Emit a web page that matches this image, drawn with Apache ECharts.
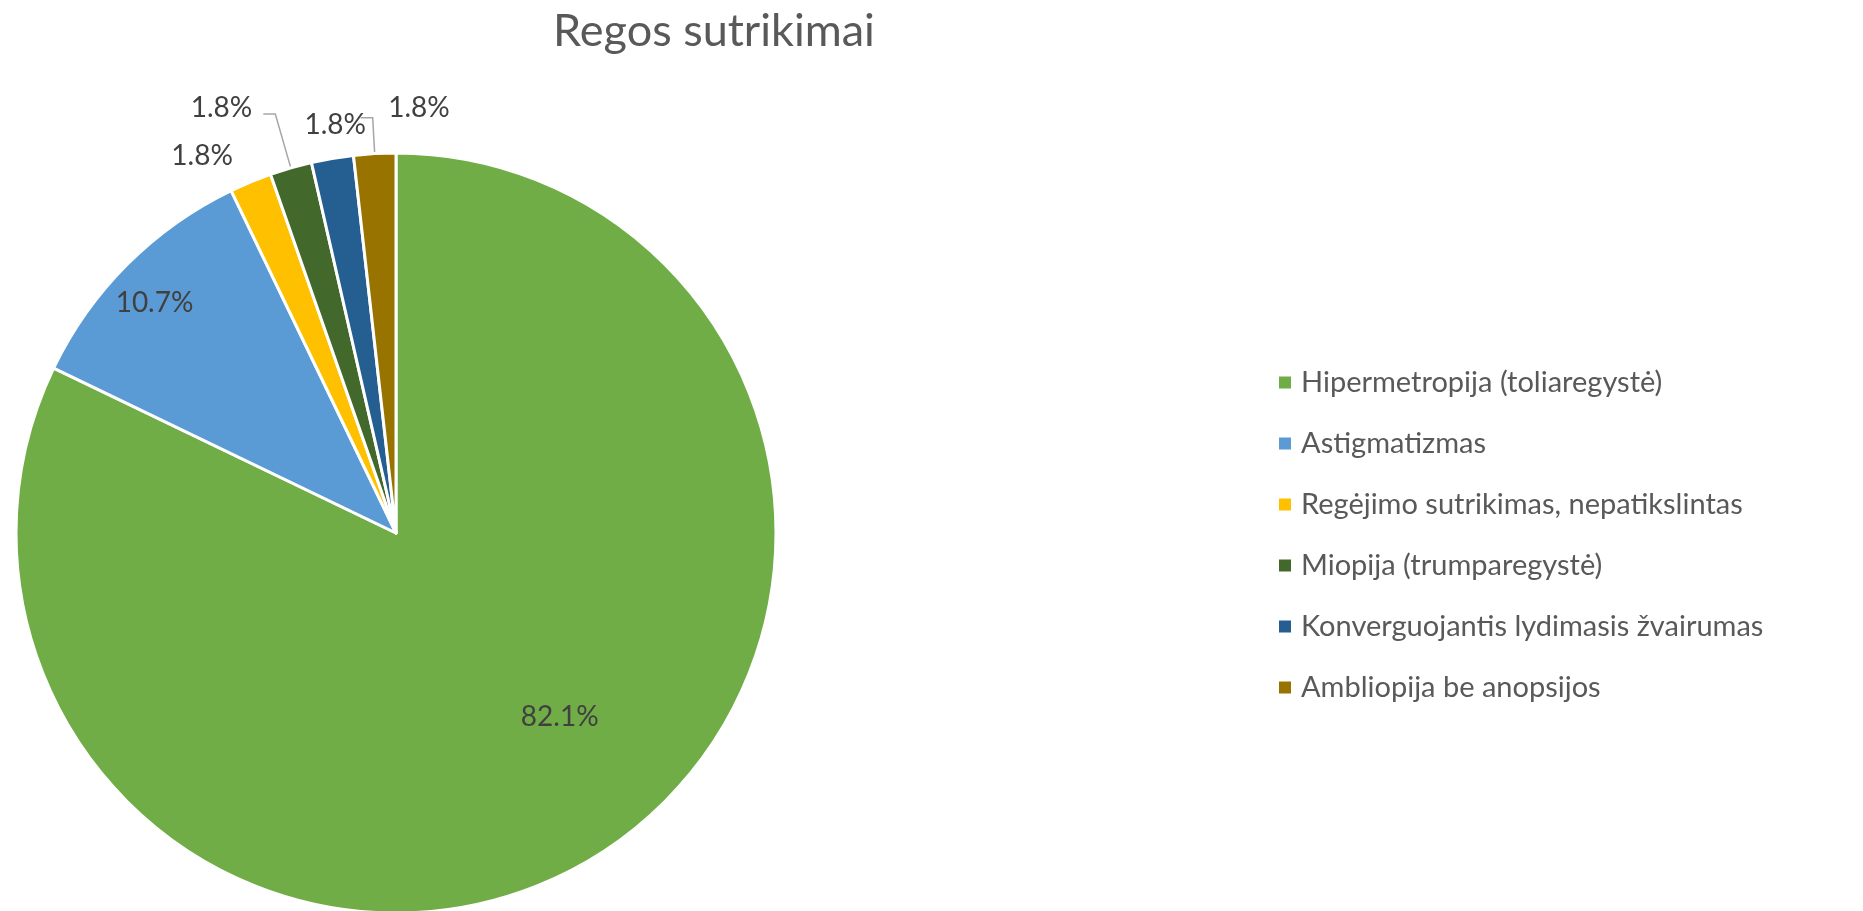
<!DOCTYPE html>
<html>
<head>
<meta charset="utf-8">
<script src="https://cdn.jsdelivr.net/npm/echarts@6/dist/echarts.min.js"></script>
<style>
  html, body { margin: 0; padding: 0; background: #fff; }
  #main { width: 1863px; height: 911px; }
</style>
</head>
<body>
<div id="main"></div>
<script>
// Regos sutrikimai - pie
var categories = [
    'Hipermetropija (toliaregystė)',
    'Astigmatizmas',
    'Regėjimo sutrikimas, nepatikslintas',
    'Miopija (trumparegystė)',
    'Konverguojantis lydimasis žvairumas',
    'Ambliopija be anopsijos'
];
var counts = [46, 6, 1, 1, 1, 1];      // atvejų skaičius
var colors = ['#70AD47', '#5B9BD5', '#FFC000', '#43682B', '#255E91', '#997300'];

var txt = '#595959';
var font = 'Lato';

// small slices: outside labels, big ones inside
var labelCfg = [
    { position: 'inside', dx: 61, dy: 21 },
    { position: 'inside', dx: -105, dy: -94 },
    { position: 'outside', line: false, len: 28, len2: 2 },
    { position: 'outside', line: true, len: 56, len2: 12, dx: -6, dy: -6 },
    { position: 'outside', line: false, len: 26, len2: 2, dx: 45, dy: -8 },
    { position: 'outside', line: true, len: 36, len2: 12, dx: 94, dy: -10 }
];

var data = categories.map(function (name, i) {
    var c = labelCfg[i];
    var item = {
        name: name,
        value: counts[i],
        itemStyle: { color: colors[i] },
        label: { position: c.position }
    };
    if (c.position === 'outside') {
        item.labelLine = {
            show: c.line,
            length: c.len,
            length2: c.len2,
            lineStyle: { color: '#A6A6A6', width: 1.5 }
        };
    }
    return item;
});

var chart = echarts.init(document.getElementById('main'));

chart.setOption({
    animation: false,
    title: {
        text: 'Regos sutrikimai',
        left: 709,
        top: 4,
        textAlign: 'center',
        textStyle: { color: txt, fontFamily: font, fontWeight: 'normal', fontSize: 45 }
    },
    legend: {
        orient: 'vertical',
        left: 1272,
        top: 363,
        itemWidth: 14,
        itemHeight: 14,
        itemGap: 32,
        icon: 'rect',
        textStyle: { color: txt, fontFamily: font, fontSize: 29, padding: [0, 0, 0, 4] },
        data: categories
    },
    series: [{
        type: 'pie',
        center: [396, 533],
        radius: 380,
        startAngle: 90,
        clockwise: true,
        avoidLabelOverlap: false,
        itemStyle: { borderColor: '#fff', borderWidth: 3 },
        label: {
            color: '#404040',
            fontFamily: font,
            fontSize: 28,
            formatter: function (p) { return p.percent.toFixed(1) + '%'; }
        },
        labelLayout: function (p) {
            var c = labelCfg[p.dataIndex];
            if (c.dx == null) return {};
            return { dx: c.dx, dy: c.dy };
        },
        emphasis: { disabled: true },
        data: data
    }]
});
</script>
</body>
</html>
